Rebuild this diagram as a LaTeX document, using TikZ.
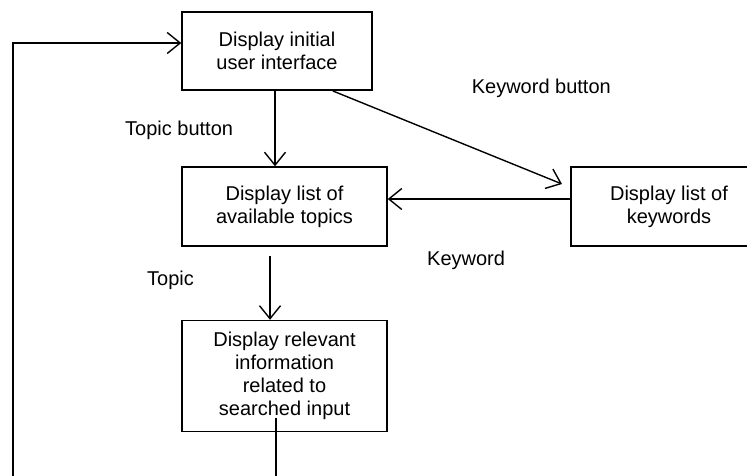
\documentclass[tikz,border=0pt]{standalone}
\usepackage{fontspec}
\setmainfont{Liberation Sans}
\usetikzlibrary{arrows.meta,calc}
\tikzset{
  procbox/.style = {draw, line width=1.4pt, align=center, inner sep=0pt,
                    font=\fontsize{20}{23}\selectfont},
  flowar/.style  = {-{Straight Barb[length=13pt,width=21pt,line width=1.4pt]},
                    line width=1.4pt},
  lbl/.style     = {font=\fontsize{20}{23}\selectfont, inner sep=0pt}
}
\begin{document}
\begin{tikzpicture}[x=1pt,y=-1pt]
  \path[use as bounding box, clip] (0,0) rectangle (747,475);
  \node[procbox, minimum width=190pt, minimum height=78pt] (ui) at (277,51)
    {Display initial\\user interface};
  \node[procbox, minimum width=205pt, minimum height=79pt] (topics) at (284.5,206.5)
    {Display list of\\available topics};
  \node[procbox, minimum width=196pt, minimum height=79pt] (kwlist) at (669,206.5)
    {Display list of\\keywords};
  \node[procbox, minimum width=205pt, minimum height=111pt] (found) at (284.5,376)
    {Display relevant\\information\\related to\\searched input};
  % labels
  \node[lbl, anchor=base east] (kbtn) at (611,93) {Keyword button};
  \node[lbl, anchor=base west] (tbtn) at (125,135) {Topic button};
  \node[lbl, anchor=base west] (kw) at (427,265) {Keyword};
  \node[lbl, anchor=base west] (tp) at (147,285) {Topic};
  % connectors
  \coordinate (kwfrom) at (333,91);
  \coordinate (kwtip) at (562,184);
  \coordinate (tstart) at ($(topics.south)+(-14.5,9)$);
  \coordinate (loopstart) at (276,418);
  \coordinate (back) at (13,43);
  \draw[flowar] ($(ui.south)+(-2,0)$) -- ($(topics.north)+(-9.5,0)$);
  \draw[flowar] (kwfrom) -- (kwtip);
  \draw[flowar] ($(kwlist.west)+(0,-7.5)$) -- ($(topics.east)+(0,-7.5)$);
  \draw[flowar] (tstart) -- (tstart |- found.north);
  \draw[flowar] (loopstart) -- ++(0,80) -| (back) -- (back -| ui.west);
\end{tikzpicture}
\end{document}
